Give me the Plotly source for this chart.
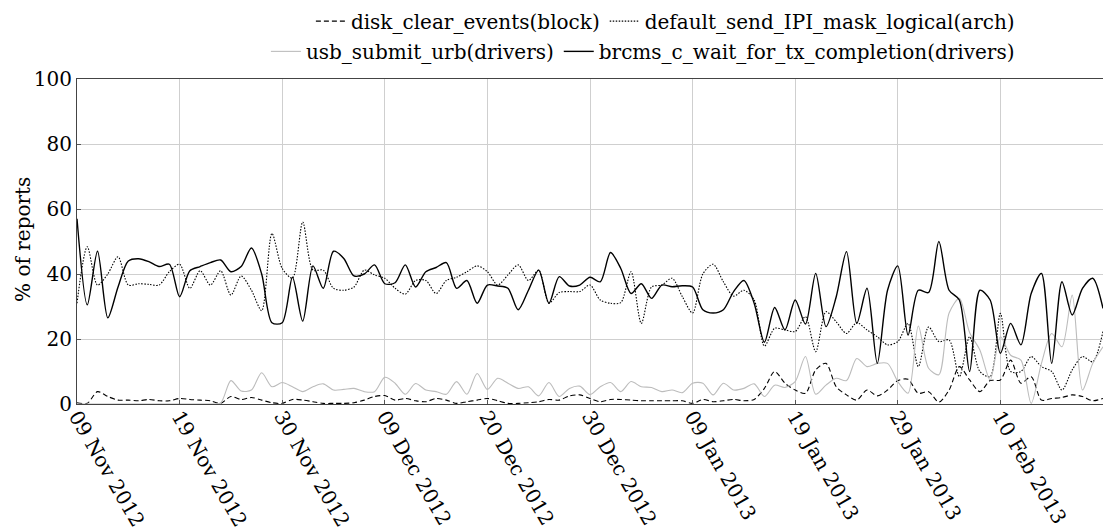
import plotly.graph_objects as go

idx = list(range(101))

tick_positions = [0, 10, 20, 30, 40, 50, 60, 70, 80, 90]
tick_labels = ["09 Nov 2012", "19 Nov 2012", "30 Nov 2012", "09 Dec 2012", "20 Dec 2012",
               "30 Dec 2012", "09 Jan 2013", "19 Jan 2013", "29 Jan 2013", "10 Feb 2013"]

disk_clear_events = [0.4, 0.2, 3.8, 2.3, 1.2, 1.2, 1.0, 1.4, 1.0, 1.0,
                     1.7, 1.4, 1.2, 1.0, 0.2, 2.3, 1.4, 2.0, 1.2, 0.4,
                     0.2, 1.4, 1.2, 0.7, 0.2, 0.2, 0.2, 0.4, 1.2, 2.3,
                     2.6, 1.2, 1.7, 1.0, 0.7, 1.7, 1.2, 0.2, 0.7, 1.2,
                     1.7, 1.0, 0.2, 0.2, 0.4, 0.7, 1.4, 1.2, 2.5, 2.8,
                     1.7, 0.7, 1.4, 1.4, 1.2, 1.0, 1.0, 1.0, 1.0, 1.0,
                     0.2, 1.4, 0.7, 1.0, 1.4, 1.0, 1.4, 4.8, 10.0, 6.4,
                     4.3, 3.3, 10.5, 12.5, 5.3, 2.8, 1.2, 4.3, 2.5, 4.3,
                     7.2, 7.6, 3.3, 3.8, 0.6, 4.3, 11.5, 7.4, 3.8, 7.2,
                     7.4, 13.5, 6.4, 8.4, 1.2, 1.7, 2.0, 2.8, 2.3, 1.0,
                     1.7]

default_send_IPI = [31, 48.4, 36.6, 40, 45.3, 36.6, 37, 36.8, 36.6, 40.7,
                    43, 35.6, 41, 36.6, 41, 33.5, 39.4, 35, 28.7, 52.5,
                    41.7, 38.7, 56, 41.2, 41.2, 35.6, 35, 36, 41.2, 39.7,
                    38.7, 35.6, 33.8, 38, 38, 34, 38, 39, 40.7, 42.5,
                    40.7, 36.6, 39.7, 42.8, 38, 41.2, 31, 34.3, 34.6, 34.6,
                    36.6, 32, 31, 31.2, 40.7, 24.8, 36, 36.6, 38.7, 33,
                    28, 40, 43, 37.6, 33.2, 35, 32, 17.8, 23.3, 22.8,
                    22.3, 26.9, 16.1, 28.4, 25.3, 21.7, 25, 22.8, 20.7, 18.2,
                    19.2, 24.8, 11.5, 23.7, 19.2, 19.7, 8.4, 20.7, 10, 8.4,
                    27.9, 10, 10, 14.6, 11.5, 10, 4.3, 10.5, 14.6, 13,
                    22.3]

usb_submit_urb = [0, 0, 0, 0, 0, 0, 0, 0, 0, 0,
                  0, 0, 0, 0, 0.3, 7.2, 4.0, 4.3, 9.6, 5.3,
                  6.6, 5.3, 3.8, 5.3, 6.2, 4.3, 4.5, 4.8, 3.8, 3.8,
                  8.2, 6.4, 3.0, 6.3, 4.3, 3.8, 3.0, 6.9, 3.0, 9.4,
                  4.5, 7.9, 6.4, 4.8, 5.3, 2.5, 6.6, 2.3, 4.8, 5.5,
                  2.9, 5.3, 6.6, 3.8, 6.9, 5.3, 5.1, 3.8, 4.3, 3.5,
                  6.4, 6.4, 2.8, 6.4, 4.3, 4.8, 6.2, 2.3, 5.8, 5.1,
                  6.9, 14.6, 3.0, 5.8, 7.9, 7.2, 14.0, 11.5, 12.5, 12.5,
                  6.9, 3.3, 24.0, 11.0, 9.0, 28.0, 32.5, 22.0, 16.6, 7.4,
                  20.7, 15.0, 13.5, 0.2, 12.5, 21.7, 17.6, 33.5, 4.3, 12.5,
                  17.6]

brcms_c_wait = [57, 30.5, 47, 26.5, 36, 44, 44.7, 43.8, 42.3, 43,
                33, 41, 42.3, 43.5, 44.3, 40.7, 42.3, 48, 40, 25,
                25, 39, 25.5, 42.5, 35.6, 47, 44.8, 39.4, 40, 42.8,
                37, 37.3, 42.8, 36, 40.7, 42, 43.5, 35.6, 38, 31,
                36.6, 36.3, 35.6, 29, 35, 41.2, 31, 39.2, 36.3, 36.6,
                39, 37.6, 46.6, 41.7, 34, 37, 32.5, 36.6, 36.1, 36.4,
                36, 29, 28, 29, 34.6, 38, 31, 19, 29.7, 22.8,
                32, 24.6, 40.2, 23.8, 33, 46.9, 24.8, 35.6, 12.5, 35,
                42.5, 21.2, 35, 34.3, 50, 35, 32, 10, 35, 32,
                15.6, 24.8, 18.2, 34, 40.2, 12.5, 37.6, 27.4, 35.6, 38.7,
                29.4]

FONT = "DejaVu Serif, serif"
FS = 20
LEGEND_FONT = dict(family=FONT, size=FS, color="black")

fig = go.Figure()
fig.add_trace(go.Scatter(x=idx, y=disk_clear_events, mode="lines",
                         name="disk_clear_events(block)", legend="legend",
                         line=dict(color="black", width=1.1, dash="5px,3px", shape="spline", smoothing=0.8)))
fig.add_trace(go.Scatter(x=idx, y=default_send_IPI, mode="lines",
                         name="default_send_IPI_mask_logical(arch)", legend="legend",
                         line=dict(color="black", width=1.1, dash="1.5px,1.5px", shape="spline", smoothing=0.8)))
fig.add_trace(go.Scatter(x=idx, y=usb_submit_urb, mode="lines",
                         name="usb_submit_urb(drivers)", legend="legend2",
                         line=dict(color="#bcbcbc", width=1.1, shape="spline", smoothing=0.8)))
fig.add_trace(go.Scatter(x=idx, y=brcms_c_wait, mode="lines",
                         name="brcms_c_wait_for_tx_completion(drivers)", legend="legend2",
                         line=dict(color="black", width=1.4, shape="spline", smoothing=0.8)))

fig.add_annotation(text="% of reports", xref="paper", yref="paper", x=-0.0526, y=0.505,
                   xanchor="center", yanchor="middle", textangle=-90, showarrow=False,
                   font=dict(family=FONT, size=FS, color="black"))

fig.update_layout(
    width=1103, height=532,
    margin=dict(l=77, r=0, t=79, b=128, autoexpand=False),
    paper_bgcolor="white", plot_bgcolor="white",
    font=dict(family=FONT, size=FS, color="black"),
    legend=dict(orientation="h", x=0.919, xanchor="right", y=1.178, yanchor="middle",
                font=LEGEND_FONT, itemwidth=30, bgcolor="rgba(0,0,0,0)",
                tracegroupgap=0),
    legend2=dict(orientation="h", x=0.919, xanchor="right", y=1.085, yanchor="middle",
                 font=LEGEND_FONT, itemwidth=30, bgcolor="rgba(0,0,0,0)",
                 tracegroupgap=0),
    xaxis=dict(range=[0, 100], tickmode="array", tickvals=tick_positions, ticktext=tick_labels,
               tickangle=60, showgrid=True, gridcolor="#cfcfcf", gridwidth=1,
               showline=True, linecolor="#444", linewidth=1.2, mirror=True,
               ticks="inside", ticklen=4, tickcolor="#555", zeroline=False, automargin=False,
               ticklabelstandoff=-8,
               tickfont=dict(family=FONT, size=FS)),
    yaxis=dict(range=[0, 100], tickvals=[0, 20, 40, 60, 80, 100],
               showgrid=True, gridcolor="#cfcfcf", gridwidth=1,
               showline=True, linecolor="#444", linewidth=1.2, mirror=True,
               ticks="inside", ticklen=4, tickcolor="#555", zeroline=False, automargin=False,
               tickfont=dict(family=FONT, size=FS)),
)

fig.write_html("out.html", config={"displayModeBar": False},
               post_script="document.body.style.margin='0';document.body.style.overflow='hidden';")
